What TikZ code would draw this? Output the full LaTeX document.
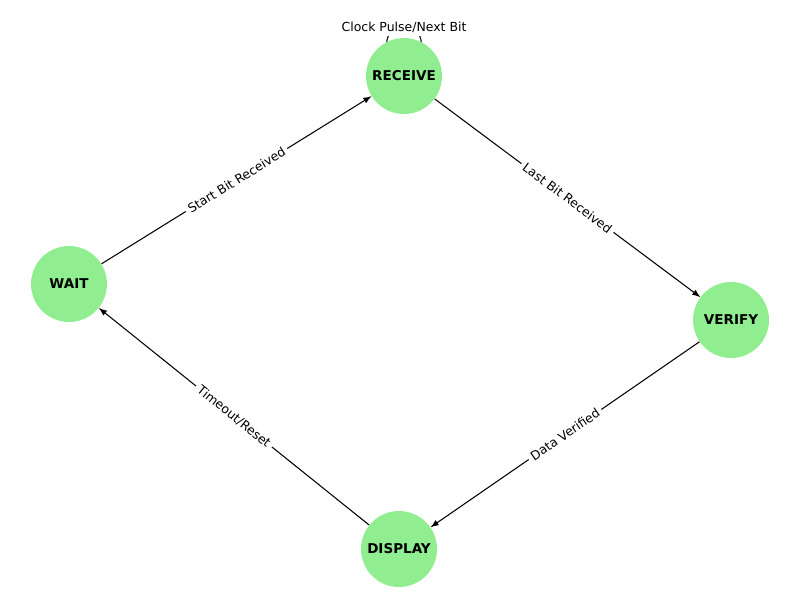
\documentclass[tikz,border=0pt]{standalone}
\usepackage{fontspec}
\setmainfont{DejaVu Sans}
\usetikzlibrary{arrows,backgrounds}
\definecolor{lgreen}{HTML}{90EE90}
\begin{document}
\begin{tikzpicture}[x=.02cm,y=-.02cm]
\tikzstyle{every node}=[minimum width=0pt, inner sep=1pt, circle]
\tikzstyle{state}=[fill=lgreen, minimum size=1.52cm, font=\fontsize{7.7}{9}\selectfont\bfseries]
\tikzstyle{lbl}=[rectangle, fill=white, inner sep=2pt, font=\fontsize{7.1}{8.5}\selectfont]
\useasboundingbox (0,0) rectangle (800,600);
\draw (404,76) node (rec) [state] {RECEIVE};
\draw (69,284) node (wait) [state] {WAIT};
\draw (731,320) node (ver) [state] {VERIFY};
\draw (399,549) node (disp) [state] {DISPLAY};
\begin{scope}[on background layer]
\draw[line width=.6pt] (rec.center) .. controls +(-60,-65) and +(60,-65) .. (rec.center);
\end{scope}
\draw (404,27) node [lbl] {Clock Pulse/Next Bit};
\draw[-latex, line width=.6pt] (wait) -- node[lbl, sloped] {Start Bit Received} (rec);
\draw[-latex, line width=.6pt] (rec) -- node[lbl, sloped] {Last Bit Received} (ver);
\draw[-latex, line width=.6pt] (ver) -- node[lbl, sloped] {Data Verified} (disp);
\draw[-latex, line width=.6pt] (disp) -- node[lbl, sloped] {Timeout/Reset} (wait);
\end{tikzpicture}
\end{document}
